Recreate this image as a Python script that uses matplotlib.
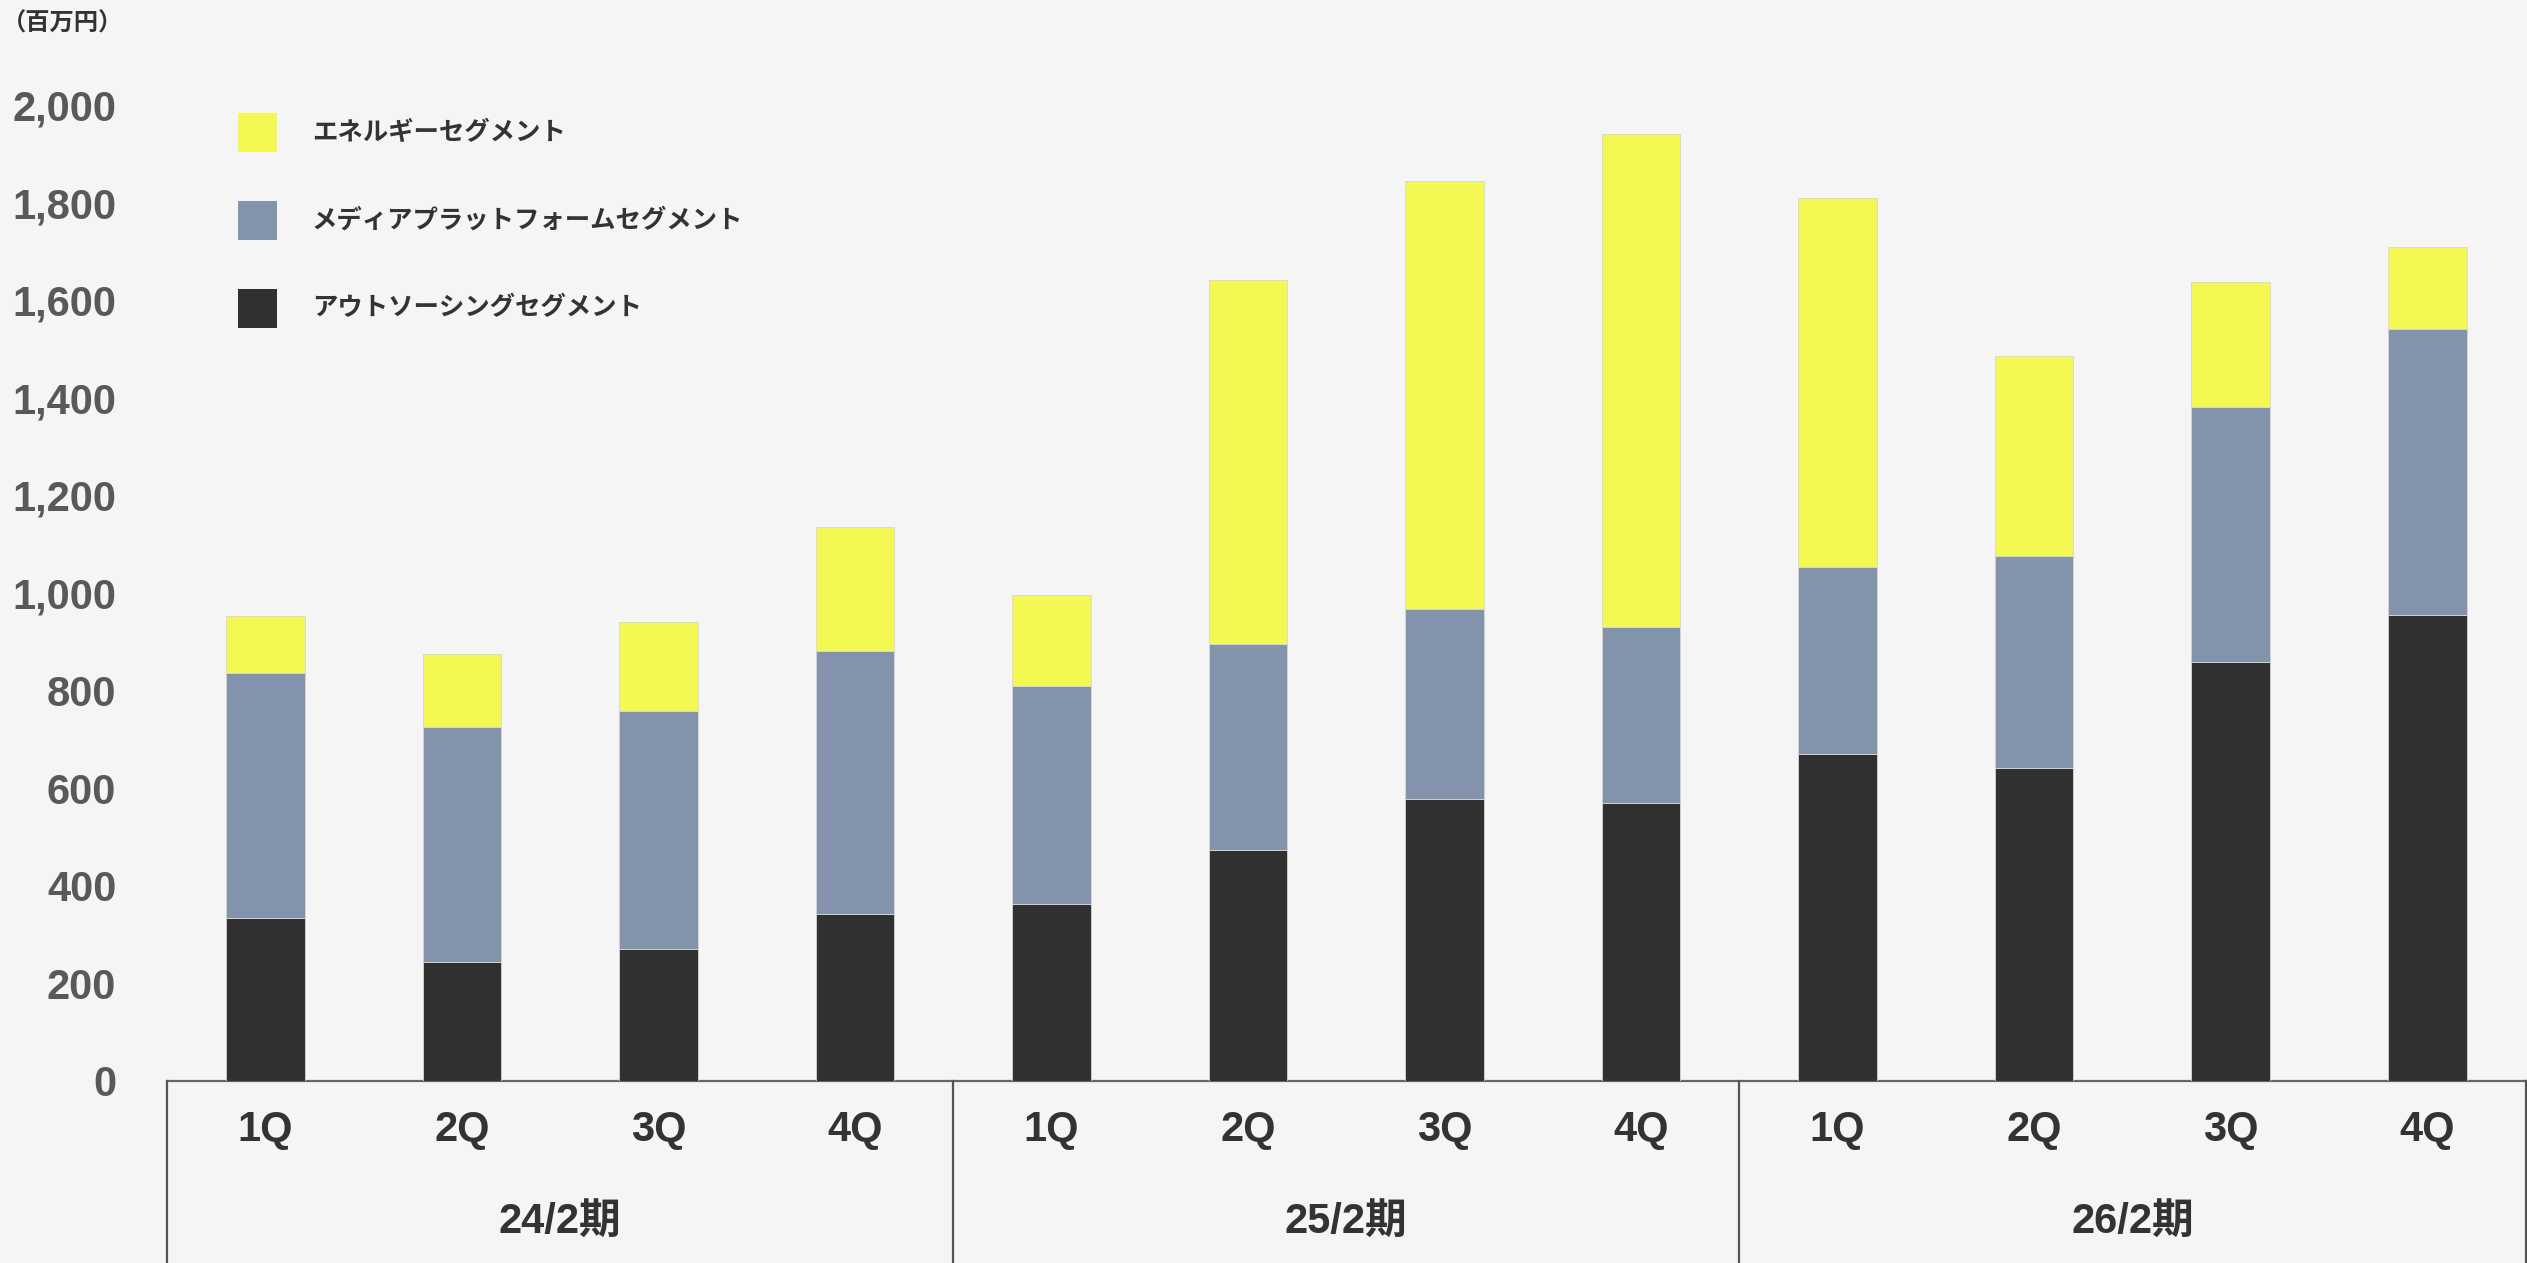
import matplotlib
matplotlib.use("Agg")
import matplotlib.pyplot as plt
from matplotlib.patches import Rectangle
from matplotlib.transforms import blended_transform_factory
import numpy as np

# ---- data (百万円) ----
quarters = ["1Q", "2Q", "3Q", "4Q"] * 3
periods = ["24/2期", "25/2期", "26/2期"]
series_names = ["エネルギーセグメント", "メディアプラットフォームセグメント", "アウトソーシングセグメント"]
outsourcing = [333, 243, 271, 342, 362, 473, 578, 569, 670, 642, 859, 955]
media = [503, 482, 487, 539, 447, 422, 390, 362, 384, 433, 523, 585]
energy = [117, 150, 182, 254, 186, 747, 877, 1009, 755, 411, 256, 170]
y_ticks = [0, 200, 400, 600, 800, 1000, 1200, 1400, 1600, 1800, 2000]

# ---- style ----
BG = "#f5f5f5"
C_ENERGY = "#f4f853"
C_MEDIA = "#8293ab"
C_OUT = "#303030"
TXT = "#333333"
TICK_TXT = "#595959"
LAT = ["Liberation Sans", "Noto Sans CJK JP", "DejaVu Sans"]
JP = ["Noto Sans CJK JP", "Liberation Sans", "DejaVu Sans"]
plt.rcParams["font.family"] = LAT

W, H = 2527, 1263
fig = plt.figure(figsize=(W / 100, H / 100), dpi=100, facecolor=BG)
ax_left, ax_right = 167 / W, 2525.5 / W
ax_bottom = (H - 1081) / H
ax_top = (H - 105) / H
ax = fig.add_axes([ax_left, ax_bottom, ax_right - ax_left, ax_top - ax_bottom])
ax.set_facecolor(BG)

x = np.arange(len(quarters))
bw = 0.4
edge = dict(edgecolor="#d6d6d6", linewidth=0.6)
ax.bar(x, outsourcing, bw, color=C_OUT, zorder=3, **edge)
ax.bar(x, media, bw, bottom=outsourcing, color=C_MEDIA, zorder=3, **edge)
bottom2 = np.array(outsourcing) + np.array(media)
ax.bar(x, energy, bw, bottom=bottom2, color=C_ENERGY, zorder=3, **edge)

ax.set_xlim(-0.5, len(quarters) - 0.5)
ax.set_ylim(0, 2000)
ax.set_yticks(y_ticks)
ax.set_yticklabels([f"{v:,}" for v in y_ticks])
ax.tick_params(axis="y", length=0, pad=36.5, labelsize=30, labelcolor=TICK_TXT)
for lbl in ax.get_yticklabels():
    lbl.set_fontweight("bold")
ax.set_xticks([])
for s in ["top", "right", "left"]:
    ax.spines[s].set_visible(False)
ax.spines["bottom"].set_color("#666666")
ax.spines["bottom"].set_linewidth(1.6)

# ---- category table under the axis ----
tr = blended_transform_factory(ax.transData, fig.transFigure)
for xi, q in zip(x, quarters):
    ax.text(xi, (H - 1130) / H, q, transform=tr, ha="center", va="center",
            fontsize=30, fontweight="bold", color=TXT)
for i, p in enumerate(periods):
    ax.text(4 * i + 1.5, (H - 1222) / H, p, transform=tr, ha="center", va="center",
            fontsize=30, fontweight="bold", color=TXT, family=LAT)
for xb in [-0.5, 3.5, 7.5, 11.5]:
    ax.plot([xb, xb], [ax_bottom, 0], transform=tr, color="#555555",
            linewidth=1.6, clip_on=False, zorder=4)

# ---- legend ----
leg_colors = [C_ENERGY, C_MEDIA, C_OUT]
leg_y = [132, 220, 308]
for name, col, yc in zip(series_names, leg_colors, leg_y):
    fig.patches.append(Rectangle((238 / W, (H - yc - 19.5) / H), 39 / W, 39 / H,
                                 transform=fig.transFigure, facecolor=col,
                                 edgecolor="none"))
    fig.text(312 / W, (H - yc) / H, name, ha="left", va="center",
             fontsize=18.3, fontweight="bold", color=TXT, family=JP)

# unit label
fig.text(2 / W, (H - 24) / H, "（百万円）", ha="left", va="center",
         fontsize=17.5, fontweight="bold", color=TXT, family=JP)

fig.savefig("out.png", dpi=100, facecolor=BG)
